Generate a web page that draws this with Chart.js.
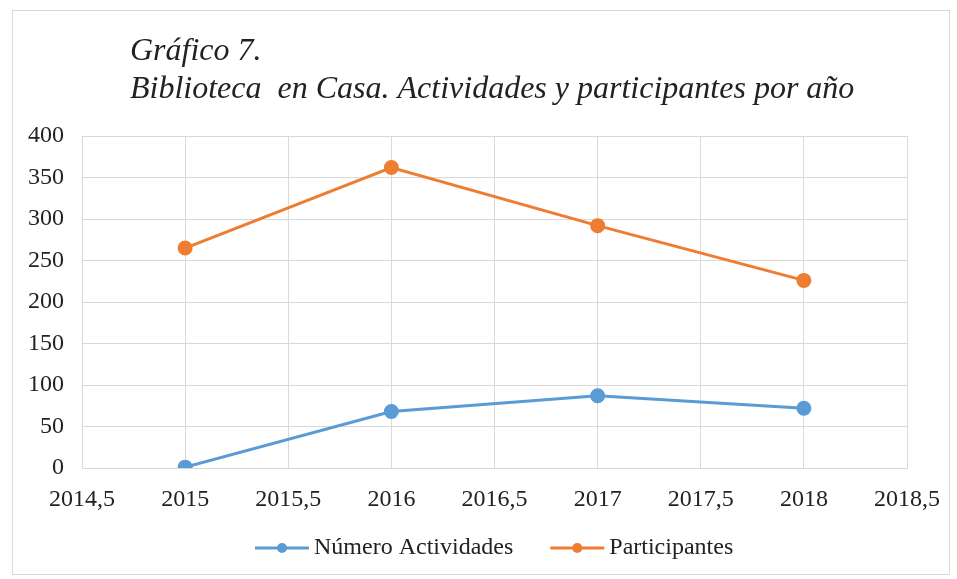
<!DOCTYPE html>
<html>
<head>
<meta charset="utf-8">
<script src="https://cdn.jsdelivr.net/npm/chart.js@4"></script>
<style>
  body { margin: 0; background: #fff; }
  .wrap { position: absolute; left: 12px; top: 10px; width: 938px; height: 565px; border: 1px solid #d9d9d9; box-sizing: border-box; }
  canvas { display: block; }
</style>
</head>
<body>
<div class="wrap"><canvas id="chart" width="936" height="563"></canvas></div>
<script>
const years = [2015, 2016, 2017, 2018];
const actividades = [1, 68, 87, 72];
const participantes = [265, 362, 292, 226];
const titleLines = ["Gráfico 7.", "Biblioteca  en Casa. Actividades y participantes por año"];

const BLUE = "#5B9BD5";
const ORANGE = "#ED7D31";
const SERIF = "'Liberation Serif', 'Times New Roman', serif";

// title lines + excel style legend (line with a dot) drawn by hand
const decorPlugin = {
    id: "decor",
    afterDraw(chart) {
        const ctx = chart.ctx;
        ctx.save();
        ctx.fillStyle = "#222";
        ctx.font = "italic 32px " + SERIF;
        ctx.textBaseline = "alphabetic";
        ctx.fillText(titleLines[0], 117, 49);
        ctx.fillText(titleLines[1], 117, 87);

        ctx.font = "24px " + SERIF;
        ctx.textBaseline = "middle";
        let x = 242;
        const y = 537;
        chart.data.datasets.forEach(ds => {
            ctx.strokeStyle = ds.borderColor;
            ctx.lineWidth = 3;
            ctx.beginPath();
            ctx.moveTo(x, y);
            ctx.lineTo(x + 54, y);
            ctx.stroke();
            ctx.fillStyle = ds.borderColor;
            ctx.beginPath();
            ctx.arc(x + 27, y, 5, 0, Math.PI * 2);
            ctx.fill();
            ctx.fillStyle = "#222";
            ctx.fillText(ds.label, x + 59, y);
            x += 59 + ctx.measureText(ds.label).width + 37;
        });
        ctx.restore();
    }
};

new Chart(document.getElementById("chart"), {
    type: "line",
    data: {
        datasets: [
            {
                label: "Número Actividades",
                data: years.map((y, i) => ({ x: y, y: actividades[i] })),
                borderColor: BLUE,
                backgroundColor: BLUE,
                borderWidth: 3,
                pointRadius: 6,
                pointHoverRadius: 6
            },
            {
                label: "Participantes",
                data: years.map((y, i) => ({ x: y, y: participantes[i] })),
                borderColor: ORANGE,
                backgroundColor: ORANGE,
                borderWidth: 3,
                pointRadius: 6,
                pointHoverRadius: 6
            }
        ]
    },
    options: {
        responsive: false,
        animation: false,
        layout: { padding: { top: 125, right: 42, bottom: 0, left: 0 } },
        scales: {
            x: {
                type: "linear",
                min: 2014.5,
                max: 2018.5,
                grid: { color: "#d9d9d9", drawTicks: false },
                border: { color: "#d9d9d9" },
                ticks: {
                    stepSize: 0.5,
                    padding: 17,
                    color: "#222",
                    font: { family: SERIF, size: 24 },
                    callback: v => String(v).replace(".", ",")
                },
                afterFit(scale) {
                    scale.height = 106;
                    scale.paddingLeft = 0;
                    scale.paddingRight = 0;
                }
            },
            y: {
                min: 0,
                max: 400,
                grid: { color: "#d9d9d9", drawTicks: false },
                border: { display: false },
                ticks: {
                    stepSize: 50,
                    padding: 18,
                    color: "#222",
                    font: { family: SERIF, size: 24 }
                },
                afterFit(scale) { scale.width = 69; }
            }
        },
        plugins: {
            tooltip: { enabled: false },
            legend: { display: false }
        }
    },
    plugins: [decorPlugin]
});
</script>
</body>
</html>
